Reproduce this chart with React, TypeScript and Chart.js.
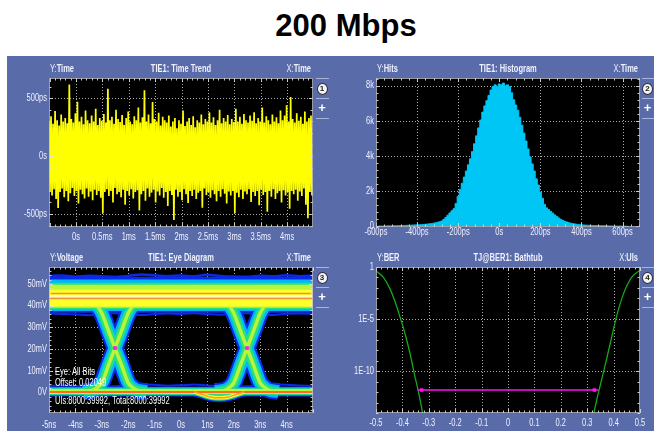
import React, { useEffect, useRef } from 'react';
import { Chart, registerables } from 'chart.js';

Chart.register(...registerables);

const FONT = "'Liberation Sans', Arial, sans-serif";
const SQUEEZE = 0.75;

// ---------------- texts ----------------
const TITLE = '200 Mbps';
const PANEL_TITLES = ['TIE1: Time Trend', 'TIE1: Histogram', 'TIE1: Eye Diagram', 'TJ@BER1: Bathtub'];
const Y_NAMES = ['Time', 'Hits', 'Voltage', 'BER'];
const X_NAMES = ['Time', 'Time', 'Time', 'UIs'];
const PANEL_NUMBERS = ['1', '2', '3', '4'];
const EYE_NOTES = ['Eye: All Bits', 'Offset: 0.02049', 'UIs:8000:39992, Total:8000:39992'];

// ---------------- panel 1 : TIE time trend (ps) ----------------
const TREND_START_MS = -0.51;
const TREND_STEP_MS = 5 / 130;
const TREND_HI = [
  300, 345, 280, 390, 310, 265, 360, 300, 330, 285,
  618, 320, 290, 370, 470, 300, 340, 275, 395, 310,
  285, 350, 300, 410, 270, 330, 305, 365, 290, 583,
  310, 340, 280, 400, 320, 295, 355, 270, 330, 385,
  300, 275, 345, 310, 420, 290, 335, 569, 300, 360,
  285, 468, 320, 300, 375, 265, 340, 310, 290, 350,
  255, 300, 330, 240, 310, 280, 395, 260, 300, 330,
  270, 345, 250, 310, 290, 360, 275, 320, 300, 380,
  290, 335, 270, 310, 400, 285, 330, 300, 355, 275,
  320, 295, 410, 300, 340, 280, 365, 310, 290, 350,
  305, 380, 285, 330, 300, 420, 290, 345, 310, 275,
  360, 300, 335, 285, 395, 310, 350, 440, 300, 511,
  320, 290, 370, 305, 340, 280, 385, 300, 330, 350,
];
const TREND_LO = [
  -300, -340, -285, -370, -448, -310, -280, -355, -300, -390,
  -320, -275, -345, -300, -410, -290, -330, -365, -280, -350,
  -305, -380, -290, -335, -300, -360, -494, -310, -285, -345,
  -300, -400, -275, -330, -310, -355, -290, -420, -300, -340,
  -285, -365, -310, -295, -470, -330, -300, -385, -280, -350,
  -315, -290, -400, -305, -340, -275, -360, -310, -430, -300,
  -335, -552, -290, -350, -310, -380, -285, -330, -405, -300,
  -345, -290, -370, -315, -300, -445, -280, -335, -310, -360,
  -295, -330, -390, -300, -350, -285, -325, -410, -305, -340,
  -300, -494, -315, -355, -290, -370, -305, -330, -285, -395,
  -310, -345, -300, -425, -290, -335, -310, -480, -300, -350,
  -285, -370, -320, -300, -400, -295, -340, -310, -455, -300,
  -330, -290, -385, -305, -345, -280, -420, -537, -310, -340,
];
const TREND_X_TICKS = [0, 0.5, 1, 1.5, 2, 2.5, 3, 3.5, 4];
const TREND_X_LABELS = ['0s', '0.5ms', '1ms', '1.5ms', '2ms', '2.5ms', '3ms', '3.5ms', '4ms'];
const TREND_Y_TICKS = [-500, 0, 500];
const TREND_Y_LABELS = ['-500ps', '0s', '500ps'];

// ---------------- panel 2 : histogram ----------------
const HIST_START_PS = -590;
const HIST_BIN_PS = 10;
const HIST_HITS = [
  10, 15, 10, 20, 20, 25, 20, 30, 30, 35,
  40, 40, 45, 50, 55, 60, 60, 70, 75, 80,
  85, 95, 105, 115, 125, 140, 155, 175, 200, 225,
  260, 300, 390, 500, 630, 760, 880, 1000, 1300, 1700,
  2100, 2450, 2800, 3150, 3500, 3850, 4250, 4700, 5150, 5600,
  6050, 6500, 6850, 7150, 7450, 7750, 7950, 8050, 7950, 8100,
  8050, 8150, 8000, 8050, 7950, 7600, 7200, 6900, 6600, 6200,
  5750, 5300, 4850, 4400, 3950, 3550, 3150, 2700, 2350, 1950,
  1600, 1250, 1050, 950, 850, 750, 650, 560, 470, 390,
  330, 280, 240, 200, 170, 150, 130, 110, 95, 85,
  75, 70, 60, 55, 50, 45, 40, 35, 30, 30,
  25, 25, 20, 20, 15, 15, 10, 10, 10, 5,
  5, 5, 0,
];
const HIST_X_TICKS = [-600, -400, -200, 0, 200, 400, 600];
const HIST_X_LABELS = ['-600ps', '-400ps', '-200ps', '0s', '200ps', '400ps', '600ps'];
const HIST_Y_TICKS = [0, 2000, 4000, 6000, 8000];
const HIST_Y_LABELS = ['0', '2k', '4k', '6k', '8k'];

// ---------------- panel 3 : eye diagram (ns, mV) ----------------
const EYE_CROSSINGS_NS = [-2.5, 2.5];
const EYE_CROSS_MV = 20.5;
const EDGE_DT_NS = [-1.2, -0.8, -0.65, -0.5, -0.25, 0, 0.25, 0.5, 0.65, 0.8, 1.2];
const EDGE_RISE_MV = [0.5, 1.3, 2.5, 4.5, 12.5, 20.5, 28.5, 36.5, 39.6, 42, 44];
const EYE_TOP_BAND_LO = [36.7, 37.6, 38.3, 39.0, 39.6];
const EYE_TOP_BAND_HI = [53.3, 52.0, 50.6, 49.6, 47.3];
const EYE_BOTTOM_BAND_LO = [-1.8, -1.4, -1.0, -0.7];
const EYE_BOTTOM_BAND_HI = [2.8, 2.4, 2.0, 1.6];
const EYE_TOP_TRACES_MV = [45.6, 43.3];
const EYE_TOP_CORE_MV = 44.4;
const EYE_BOTTOM_TRACE_MV = 0.3;
const EYE_HALO_NS = [-5, -4.5, -4, -3.5, -3, -2.5, -2, -1.5, -1, -0.5, 0, 0.5, 1, 1.5, 2, 2.5, 3, 3.5, 4, 4.5, 5];
const EYE_TOP_HALO_MV = [53.6, 53.9, 53.4, 53.8, 53.5, 53.2, 53.7, 54.3, 54.0, 53.6, 53.9, 53.5, 54.2, 53.7, 53.4, 53.3, 53.8, 53.5, 54.0, 53.6, 53.8];
const EYE_UNDER_HALO_MV = [36.4, 36.2, 36.0, 35.6, 36.2, 36.5, 36.0, 35.7, 36.2, 36.4, 36.2, 36.5, 36.1, 35.8, 36.2, 36.5, 36.0, 35.7, 36.3, 36.4, 36.2];
const EYE_BOTTOM_HALO_MV = [3.0, 3.3, 3.0, 2.9, 2.8, 2.9, 3.3, 3.7, 3.6, 3.2, 3.4, 3.7, 3.3, 2.9, 2.8, 2.9, 3.4, 3.7, 3.6, 3.3, 3.0];
const EYE_LOBE_NS = [0.5, 0.8, 1.1, 1.45, 1.8, 2.1, 2.4];
const EYE_LOBE_MV = [0.3, -0.8, -2.0, -2.4, -2.0, -0.8, 0.3];
const EYE_X_TICKS = [-5, -4, -3, -2, -1, 0, 1, 2, 3, 4];
const EYE_X_LABELS = ['-5ns', '-4ns', '-3ns', '-2ns', '-1ns', '0s', '1ns', '2ns', '3ns', '4ns'];
const EYE_Y_TICKS = [0, 10, 20, 30, 40, 50];
const EYE_Y_LABELS = ['0V', '10mV', '20mV', '30mV', '40mV', '50mV'];

// ---------------- panel 4 : bathtub ----------------
const BATH_LEFT_UI = [-0.5, -0.472, -0.447, -0.425, -0.409, -0.39, -0.371, -0.355, -0.34, -0.325, -0.318];
const BATH_LEFT_BER = [0.42, 0.1, 8e-3, 3e-4, 1.6e-5, 4e-7, 5e-9, 6e-11, 1.3e-12, 1.6e-14, 1e-15];
const BATH_RIGHT_UI = [0.318, 0.327, 0.345, 0.367, 0.393, 0.412, 0.437, 0.468, 0.5];
const BATH_RIGHT_BER = [1e-15, 1.6e-14, 1.6e-12, 3e-10, 2e-7, 2.2e-5, 2.5e-3, 0.1, 0.49];
const TJ_UI = [-0.342, -0.327, 0.327, 0.342];
const TJ_BER = 1.6e-12;
const BATH_X_TICKS = [-0.5, -0.4, -0.3, -0.2, -0.1, 0, 0.1, 0.2, 0.3, 0.4, 0.5];
const BATH_X_LABELS = ['-0.5', '-0.4', '-0.3', '-0.2', '-0.1', '0', '0.1', '0.2', '0.3', '0.4', '0.5'];
const BATH_Y_TICKS = [1e-10, 1e-5, 1];
const BATH_Y_LABELS = ['1E-10', '1E-5', '1'];

// ---------------- styles ----------------
const PANEL_BG = '#5a6ba9';
const TEXT = '#eef1ff';
const GRID = 'rgba(215,215,215,0.8)';
const TICKC = 'rgba(220,220,220,0.9)';
const EYE_COLORS = ['#0a2ae8', '#00b6ff', '#28e07c', '#b8f53c', '#ffff2a'];
const EYE_ARM_WIDTHS = [17, 13, 8.5, 3.5];

function squeezeText(ctx: any, text: string, x: number, y: number, align: string, font: string) {
  ctx.save();
  ctx.font = font;
  ctx.textBaseline = 'middle';
  ctx.textAlign = 'left';
  const w = ctx.measureText(text).width * SQUEEZE;
  const left = align === 'left' ? x : align === 'right' ? x - w : x - w / 2;
  ctx.translate(left, y);
  ctx.scale(SQUEEZE, 1);
  ctx.fillText(text, 0, 0);
  ctx.restore();
  return w;
}

const scopePlugin: any = {
  id: 'scope',
  beforeDraw(chart: any) {
    const { ctx, chartArea: a } = chart;
    ctx.save();
    ctx.fillStyle = '#000';
    ctx.fillRect(a.left, a.top, a.right - a.left, a.bottom - a.top);
    ctx.restore();
  },
  beforeDatasetsDraw(chart: any) {
    const { ctx, chartArea: a } = chart;
    const xs = chart.scales.x, ys = chart.scales.y;
    ctx.save();
    ctx.strokeStyle = GRID;
    ctx.lineWidth = 1;
    ctx.setLineDash([1, 2]);
    xs.ticks.forEach((t: any) => {
      const p = Math.round(xs.getPixelForValue(t.value)) + 0.5;
      if (p < a.left + 2 || p > a.right - 2) return;
      ctx.beginPath(); ctx.moveTo(p, a.top); ctx.lineTo(p, a.bottom); ctx.stroke();
    });
    ys.ticks.forEach((t: any) => {
      const p = Math.round(ys.getPixelForValue(t.value)) + 0.5;
      if (p < a.top + 2 || p > a.bottom - 2) return;
      ctx.beginPath(); ctx.moveTo(a.left, p); ctx.lineTo(a.right, p); ctx.stroke();
    });
    ctx.restore();
  },
  afterDatasetsDraw(chart: any, _args: any, o: any) {
    const { ctx, chartArea: a } = chart;
    const xs = chart.scales.x, ys = chart.scales.y;
    ctx.save();
    ctx.strokeStyle = TICKC;
    ctx.lineWidth = 1;
    const line = (x1: number, y1: number, x2: number, y2: number) => {
      ctx.beginPath(); ctx.moveTo(x1, y1); ctx.lineTo(x2, y2); ctx.stroke();
    };
    const n0 = Math.ceil(xs.min / o.xMinor - 1e-6), n1 = Math.floor(xs.max / o.xMinor + 1e-6);
    for (let n = n0; n <= n1; n++) {
      const v = n * o.xMinor;
      const r = v / o.xMajor;
      const major = Math.abs(r - Math.round(r)) < 1e-6;
      const p = Math.round(xs.getPixelForValue(v)) + 0.5;
      const L = major ? 4 : 2.5;
      line(p, a.top, p, a.top + L);
      line(p, a.bottom, p, a.bottom - L);
    }
    if (o.yLog) {
      for (let k = -14; k <= 0; k++) {
        const p = Math.round(ys.getPixelForValue(Math.pow(10, k))) + 0.5;
        const L = k % 5 === 0 ? 4 : 2.5;
        line(a.left, p, a.left + L, p);
        line(a.right, p, a.right - L, p);
      }
    } else {
      const m0 = Math.ceil(ys.min / o.yMinor - 1e-6), m1 = Math.floor(ys.max / o.yMinor + 1e-6);
      for (let n = m0; n <= m1; n++) {
        const v = n * o.yMinor;
        const r = v / o.yMajor;
        const major = Math.abs(r - Math.round(r)) < 1e-6;
        const p = Math.round(ys.getPixelForValue(v)) + 0.5;
        const L = major ? 4 : 2.5;
        line(a.left, p, a.left + L, p);
        line(a.right, p, a.right - L, p);
      }
    }
    ctx.strokeStyle = 'rgba(190,190,200,0.8)';
    ctx.strokeRect(a.left + 0.5, a.top + 0.5, a.right - a.left - 1, a.bottom - a.top - 1);
    ctx.restore();
  },
  afterDraw(chart: any, _args: any, o: any) {
    const { ctx, chartArea: a } = chart;
    const xs = chart.scales.x, ys = chart.scales.y;
    ctx.save();
    ctx.fillStyle = TEXT;
    const regular = `10px ${FONT}`;
    const bold = `bold 10px ${FONT}`;
    // tick labels, placed through the scales
    xs.ticks.forEach((t: any, i: number) => {
      squeezeText(ctx, o.xLabels[i], xs.getPixelForValue(t.value), a.bottom + o.xLabelDy, 'center', regular);
    });
    ys.ticks.forEach((t: any, i: number) => {
      squeezeText(ctx, o.yLabels[i], a.left - 2, ys.getPixelForValue(t.value), 'right', regular);
    });
    // header
    const y = a.top - 8.5;
    const wy = squeezeText(ctx, 'Y:', a.left + 1, y, 'left', regular);
    squeezeText(ctx, o.yName, a.left + 1 + wy, y, 'left', bold);
    squeezeText(ctx, o.title, (a.left + a.right) / 2, y, 'center', bold);
    const wx = squeezeText(ctx, o.xName, a.right - 2, y, 'right', bold);
    squeezeText(ctx, 'X:', a.right - 2 - wx, y, 'right', regular);
    if (o.notes && o.notes.length) {
      ctx.fillStyle = '#ffffff';
      const offs = [41, 30, 12];
      o.notes.forEach((t: string, i: number) => squeezeText(ctx, t, a.left + 6, a.bottom - offs[i], 'left', regular));
    }
    ctx.restore();
  },
};

function makeOptions(c: any) {
  return {
    animation: false,
    responsive: false,
    maintainAspectRatio: false,
    events: [],
    layout: { padding: { top: 18, right: c.rightPad, left: 0, bottom: 0 }, autoPadding: false },
    plugins: {
      legend: { display: false },
      tooltip: { enabled: false },
      title: { display: false },
      scope: { ...c.scope, xLabels: c.xLabels, yLabels: c.yLabels, xLabelDy: c.xLabelDy },
    },
    scales: {
      x: {
        type: 'linear',
        min: c.xMin,
        max: c.xMax,
        grid: { display: false, drawTicks: false },
        border: { display: false },
        afterBuildTicks: (s: any) => { s.ticks = c.xTicks.map((v: number) => ({ value: v })); },
        afterFit: (s: any) => { s.height = 18; },
        ticks: { display: false },
      },
      y: {
        type: c.yType || 'linear',
        min: c.yMin,
        max: c.yMax,
        grid: { display: false, drawTicks: false },
        border: { display: false },
        afterBuildTicks: (s: any) => { s.ticks = c.yTicks.map((v: number) => ({ value: v })); },
        afterFit: (s: any) => { s.width = c.yWidth; },
        ticks: { display: false },
      },
    },
  };
}

function trendConfig() {
  const pts: any[] = [];
  TREND_HI.forEach((h, i) => {
    pts.push({ x: TREND_START_MS + i * TREND_STEP_MS, y: h });
    pts.push({ x: TREND_START_MS + (i + 0.5) * TREND_STEP_MS, y: TREND_LO[i] });
  });
  return {
    type: 'line',
    data: { datasets: [{ data: pts, borderColor: '#ffff00', borderWidth: 1.7, pointRadius: 0, tension: 0, fill: false }] },
    options: makeOptions({
      xMin: -0.51, xMax: 4.49, yMin: -612, yMax: 675,
      xTicks: TREND_X_TICKS, xLabels: TREND_X_LABELS, yTicks: TREND_Y_TICKS, yLabels: TREND_Y_LABELS,
      yWidth: 49, rightPad: 17, xLabelDy: 10,
      scope: { title: PANEL_TITLES[0], yName: Y_NAMES[0], xName: X_NAMES[0], xMinor: 0.1, xMajor: 0.5, yMinor: 100, yMajor: 500 },
    }),
    plugins: [scopePlugin],
  };
}

function histConfig() {
  const pts = HIST_HITS.map((h, i) => ({ x: HIST_START_PS + i * HIST_BIN_PS, y: h }));
  return {
    type: 'line',
    data: { datasets: [{ data: pts, stepped: 'middle', fill: 'origin', backgroundColor: '#00c6f6', borderColor: '#00c6f6', borderWidth: 1, pointRadius: 0 }] },
    options: makeOptions({
      xMin: -600, xMax: 685, yMin: -40, yMax: 8440,
      xTicks: HIST_X_TICKS, xLabels: HIST_X_LABELS, yTicks: HIST_Y_TICKS, yLabels: HIST_Y_LABELS,
      yWidth: 46, rightPad: 14, xLabelDy: 5,
      scope: { title: PANEL_TITLES[1], yName: Y_NAMES[1], xName: X_NAMES[1], xMinor: 40, xMajor: 200, yMinor: 400, yMajor: 2000 },
    }),
    plugins: [scopePlugin],
  };
}

function eyeConfig() {
  const ds: any[] = [];
  const band = (lo: number, hi: number, color: string, order: number) => ds.push({
    data: [{ x: -5, y: hi }, { x: 5, y: hi }], fill: { value: lo }, backgroundColor: color,
    borderWidth: 0, pointRadius: 0, order,
  });
  const trace = (pts: any[], color: string, width: number, order: number) => ds.push({
    data: pts, borderColor: color, borderWidth: width, pointRadius: 0, fill: false, order,
    cubicInterpolationMode: 'monotone',
  });
  EYE_TOP_BAND_LO.forEach((lo, k) => band(lo, EYE_TOP_BAND_HI[k], EYE_COLORS[k], 10 - k));
  EYE_BOTTOM_BAND_LO.forEach((lo, k) => band(lo, EYE_BOTTOM_BAND_HI[k], EYE_COLORS[k], 10 - k));
  const halo = (vals: number[], w: number) => trace(EYE_HALO_NS.map((x, i) => ({ x, y: vals[i] })), EYE_COLORS[0], w, 11);
  halo(EYE_TOP_HALO_MV, 2.5);
  halo(EYE_UNDER_HALO_MV, 2);
  halo(EYE_BOTTOM_HALO_MV, 2);
  EYE_CROSSINGS_NS.forEach((c) => {
    const rise = EDGE_DT_NS.map((dt, i) => ({ x: c + dt, y: EDGE_RISE_MV[i] }));
    const fall = EDGE_DT_NS.map((dt, i) => ({ x: c + dt, y: EDGE_RISE_MV[EDGE_RISE_MV.length - 1 - i] }));
    EYE_ARM_WIDTHS.forEach((w, k) => {
      trace(rise, EYE_COLORS[k], w, 10 - k);
      trace(fall, EYE_COLORS[k], w, 10 - k);
    });
  });
  const lobe = EYE_LOBE_NS.map((x, i) => ({ x, y: EYE_LOBE_MV[i] }));
  trace(lobe, EYE_COLORS[0], 9, 10);
  trace(lobe, EYE_COLORS[2], 6, 8);
  trace(lobe, EYE_COLORS[4], 3.5, 6);
  trace(lobe, '#ff9a30', 1.5, 2);
  EYE_TOP_TRACES_MV.forEach((v) => trace([{ x: -5, y: v }, { x: 5, y: v }], '#f09040', 1.5, 2));
  trace([{ x: -5, y: EYE_TOP_CORE_MV }, { x: 5, y: EYE_TOP_CORE_MV }], '#ffffb0', 2, 3);
  trace([{ x: -5, y: EYE_BOTTOM_TRACE_MV }, { x: 5, y: EYE_BOTTOM_TRACE_MV }], '#ff6a20', 2, 2);
  ds.push({
    type: 'scatter',
    data: EYE_CROSSINGS_NS.map((x) => ({ x, y: EYE_CROSS_MV })),
    pointStyle: 'rect', pointRadius: 2.6, backgroundColor: '#ff18e8', borderWidth: 0, order: 0,
  });
  return {
    type: 'line',
    data: { datasets: ds },
    options: makeOptions({
      xMin: -5, xMax: 5, yMin: -9.4, yMax: 57.8,
      xTicks: EYE_X_TICKS, xLabels: EYE_X_LABELS, yTicks: EYE_Y_TICKS, yLabels: EYE_Y_LABELS,
      yWidth: 49, rightPad: 17, xLabelDy: 12,
      scope: { title: PANEL_TITLES[2], yName: Y_NAMES[2], xName: X_NAMES[2], xMinor: 0.2, xMajor: 1, yMinor: 2, yMajor: 10, notes: EYE_NOTES },
    }),
    plugins: [scopePlugin],
  };
}

function bathConfig() {
  const left = BATH_LEFT_UI.map((x, i) => ({ x, y: BATH_LEFT_BER[i] }));
  const right = BATH_RIGHT_UI.map((x, i) => ({ x, y: BATH_RIGHT_BER[i] }));
  const tj = TJ_UI.map((x) => ({ x, y: TJ_BER }));
  return {
    type: 'line',
    data: {
      datasets: [
        { data: tj, borderColor: '#ff14f0', borderWidth: 1.5, pointRadius: [0, 2.5, 2.5, 0], pointStyle: 'rect', pointBackgroundColor: '#ff14f0', pointBorderWidth: 0, fill: false },
        { data: left, borderColor: '#16a816', borderWidth: 1.3, pointRadius: 0, cubicInterpolationMode: 'monotone', fill: false },
        { data: right, borderColor: '#16a816', borderWidth: 1.3, pointRadius: 0, cubicInterpolationMode: 'monotone', fill: false },
      ],
    },
    options: makeOptions({
      xMin: -0.5, xMax: 0.5, yMin: 1e-14, yMax: 1, yType: 'logarithmic',
      xTicks: BATH_X_TICKS, xLabels: BATH_X_LABELS, yTicks: BATH_Y_TICKS, yLabels: BATH_Y_LABELS,
      yWidth: 46, rightPad: 14, xLabelDy: 10,
      scope: { title: PANEL_TITLES[3], yName: Y_NAMES[3], xName: X_NAMES[3], xMinor: 0.02, xMajor: 0.1, yLog: true },
    }),
    plugins: [scopePlugin],
  };
}

function ScopeChart({ left, top, width, height, make }: any) {
  const ref = useRef<HTMLCanvasElement>(null);
  useEffect(() => {
    const chart = new Chart(ref.current as any, make());
    return () => chart.destroy();
  }, []);
  return (
    <canvas
      ref={ref}
      width={width}
      height={height}
      style={{ position: 'absolute', left, top, width, height }}
    />
  );
}

function Buttons({ cx, top, n }: any) {
  const lineStyle = (y: number): any => ({
    position: 'absolute', left: cx - 6, top: y, width: 13, height: 1, background: '#aab4dc',
  });
  return (
    <>
      <div style={lineStyle(top)} />
      <div style={lineStyle(top + 20)} />
      <div style={lineStyle(top + 40)} />
      <div
        style={{
          position: 'absolute', left: cx - 5.5, top: top + 4.5, width: 9, height: 10,
          borderRadius: '50%', background: '#f4f4f4', border: '1.5px solid #2a2a3a',
          font: `bold 8px ${FONT}`, color: '#202020', display: 'flex', alignItems: 'center', justifyContent: 'center',
          lineHeight: '10px',
        }}
      >
        {n}
      </div>
      <div
        style={{
          position: 'absolute', left: cx - 6, top: top + 23, width: 12, height: 14,
          font: `bold 13px ${FONT}`, color: '#ffffff', textAlign: 'center', lineHeight: '14px',
        }}
      >
        +
      </div>
    </>
  );
}

export default function App() {
  return (
    <div style={{ position: 'fixed', left: 0, top: 0, width: 654, height: 431, background: '#ffffff', overflow: 'hidden' }}>
      <div
        style={{
          position: 'absolute', left: 246, top: 10, width: 200, textAlign: 'center',
          font: `bold 31px ${FONT}`, lineHeight: '31px', color: '#000',
        }}
      >
        {TITLE}
      </div>
      <div style={{ position: 'absolute', left: 7, top: 56, width: 647, height: 375, background: PANEL_BG }} />
      <ScopeChart left={0} top={60} width={330} height={185} make={trendConfig} />
      <ScopeChart left={330} top={60} width={324} height={185} make={histConfig} />
      <ScopeChart left={0} top={249} width={330} height={182} make={eyeConfig} />
      <ScopeChart left={330} top={249} width={324} height={182} make={bathConfig} />
      <Buttons cx={322} top={78} n={PANEL_NUMBERS[0]} />
      <Buttons cx={647.5} top={78} n={PANEL_NUMBERS[1]} />
      <Buttons cx={322} top={267} n={PANEL_NUMBERS[2]} />
      <Buttons cx={647.5} top={267} n={PANEL_NUMBERS[3]} />
    </div>
  );
}
